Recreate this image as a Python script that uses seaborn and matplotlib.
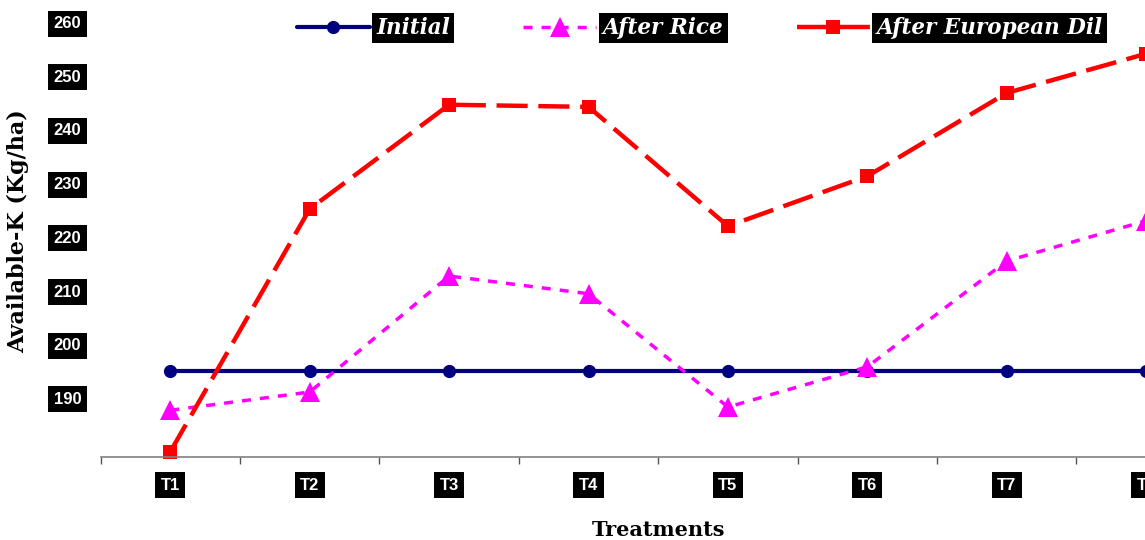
import numpy as np
import pandas as pd
import matplotlib
matplotlib.use("Agg")
import matplotlib.pyplot as plt
import seaborn as sns

# Data
treatments = ["T1", "T2", "T3", "T4", "T5", "T6", "T7", "T8"]
initial = [195.0, 195.0, 195.0, 195.0, 195.0, 195.0, 195.0, 195.0]
after_rice = [187.7, 191.1, 212.7, 209.4, 188.3, 195.8, 215.5, 223.0]
after_european_dil = [180.0, 225.2, 244.6, 244.2, 222.0, 231.3, 246.8, 254.1]
y_ticks = [190, 200, 210, 220, 230, 240, 250, 260]

sns.set_style("white")
plt.rcParams["font.family"] = ["Liberation Sans", "DejaVu Sans"]

fig = plt.figure(figsize=(11.45, 5.4), dpi=100)
ax = fig.add_axes([0.0879, 0.1537, 0.974, 0.8204])

pos = np.arange(len(treatments))
df = pd.DataFrame({"pos": pos, "Initial": initial,
                   "After Rice": after_rice,
                   "After European Dil": after_european_dil})

sns.lineplot(data=df, x="pos", y="Initial", ax=ax, color="#000080",
             linewidth=3.0, marker="o", markersize=9.5, markeredgewidth=0,
             label="Initial", clip_on=False)
sns.lineplot(data=df, x="pos", y="After Rice", ax=ax, color="#FF00FF",
             linewidth=2.5, dashes=(2.6, 2.6), marker="^", markersize=15,
             markeredgewidth=0, label="After Rice", clip_on=False)
sns.lineplot(data=df, x="pos", y="After European Dil", ax=ax, color="#FF0000",
             linewidth=3.2, dashes=(7, 2.4), marker="s", markersize=10,
             markeredgewidth=0, label="After European Dil", clip_on=False)

ax.set_xlim(-0.5, len(treatments) - 0.5)
ax.set_ylim(179, 261.5)

# axes styling: only a gray bottom line
for s in ["top", "right", "left"]:
    ax.spines[s].set_visible(False)
ax.spines["bottom"].set_color("#808080")
ax.spines["bottom"].set_linewidth(1.2)

ax.set_xticks(pos)
ax.set_xticklabels(treatments)
ax.set_xticks(np.arange(-0.5, len(treatments)), minor=True)
ax.tick_params(axis="x", which="major", length=0, pad=15)
ax.tick_params(axis="x", which="minor", direction="out", length=5,
               width=1, color="#555555", bottom=True)
ax.set_yticks(y_ticks)
ax.tick_params(axis="y", length=0, pad=14)

for lab in ax.get_xticklabels() + ax.get_yticklabels():
    lab.set_color("white")
    lab.set_fontweight("bold")
    lab.set_fontsize(12)
    lab.set_bbox(dict(facecolor="black", edgecolor="none", pad=4))

ax.set_xlabel("Treatments", fontsize=15, fontweight="bold",
              family="DejaVu Serif", color="black")
ax.set_ylabel("Available-K (Kg/ha)", fontsize=16, fontweight="bold",
              family="DejaVu Serif", color="black")
ax.xaxis.set_label_coords(0.5, -0.142)
ax.yaxis.set_label_coords(-0.064, 0.51)

ax.get_legend().remove()
handles, labels = ax.get_legend_handles_labels()
leg = fig.legend(handles, labels, loc="center", bbox_to_anchor=(0.611, 0.948),
                 ncol=3, frameon=False, handlelength=3.4, handletextpad=0.3,
                 columnspacing=3.4,
                 prop=dict(family="DejaVu Serif", weight="bold",
                           style="italic", size=15.5))
for t in leg.get_texts():
    t.set_color("white")
    t.set_bbox(dict(facecolor="black", edgecolor="none", pad=3))

fig.savefig("out.png", dpi=100)
